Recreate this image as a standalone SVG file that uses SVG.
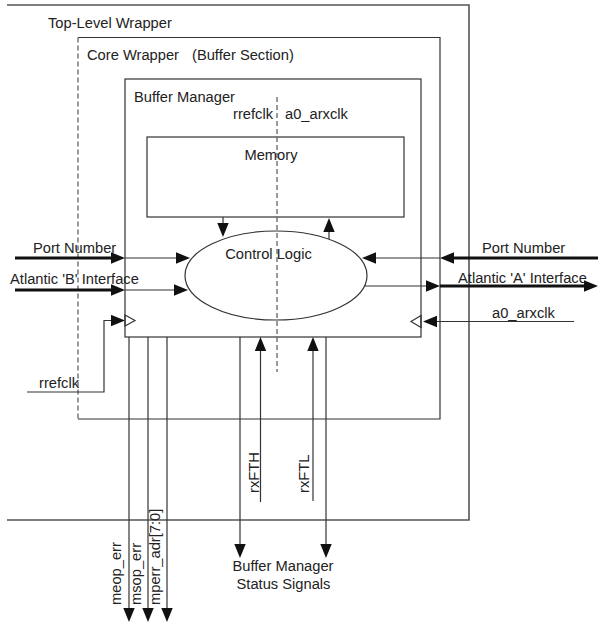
<svg xmlns="http://www.w3.org/2000/svg" width="598" height="624" viewBox="0 0 598 624">
<defs>
<style>
text{font-family:"Liberation Sans",Arial,sans-serif;font-size:14.7px;fill:#222}
.mid{text-anchor:middle}
.end{text-anchor:end}
.box{fill:none;stroke:#333;stroke-width:1.2}
.outer{fill:none;stroke:#555;stroke-width:1.6}
.dash{fill:none;stroke:#555;stroke-width:1.2;stroke-dasharray:5,3}
.thin{fill:none;stroke:#333;stroke-width:1.2}
.arr{fill:none;stroke:#333;stroke-width:1.2;marker-end:url(#ah)}
.thick{fill:none;stroke:#111;stroke-width:3;marker-end:url(#ah)}
</style>
<marker id="ah" markerUnits="userSpaceOnUse" markerWidth="16" markerHeight="13" refX="0" refY="6" orient="auto">
<path d="M0,0.3 L14,6 L0,11.7 z" fill="#111"/>
</marker>
</defs>
<rect width="598" height="624" fill="#fff"/>

<g id="top-level-wrapper">
<polyline class="outer" points="7,5 469,5 469,520 7,520"/>
<text x="48" y="28">Top-Level Wrapper</text>
</g>

<g id="core-wrapper">
<polyline class="box" points="78,37.5 440,37.5 440,419 78,419"/>
<line class="dash" x1="78" y1="37.5" x2="78" y2="419"/>
<text x="87" y="60">Core Wrapper</text>
<text x="192" y="60">(Buffer Section)</text>
</g>

<g id="buffer-manager">
<rect class="box" x="125" y="79" width="296" height="258"/>
<text x="134" y="102">Buffer Manager</text>
<text class="end" x="273" y="119">rrefclk</text>
<text x="285" y="119">a0_arxclk</text>
<polygon class="thin" points="125,315 135,320.5 125,326" fill="#fff"/>
<polygon class="thin" points="421,315.5 411,321.5 421,327.5" fill="#fff"/>
</g>

<g id="memory">
<rect class="box" x="147" y="137" width="257" height="80"/>
<text class="mid" x="271" y="160">Memory</text>
</g>

<g id="control-logic">
<ellipse class="box" cx="276" cy="275.5" rx="91" ry="44.5" fill="#fff"/>
<text class="mid" x="268.5" y="258.5">Control Logic</text>
</g>

<line class="dash" x1="277" y1="97" x2="277" y2="372"/>

<g id="connectors">
<line class="thick" x1="15" y1="258" x2="111" y2="258"/>
<line class="arr" x1="125" y1="258" x2="176" y2="258"/>
<line class="thick" x1="15" y1="290" x2="111" y2="290"/>
<line class="arr" x1="125" y1="290" x2="174" y2="290"/>
<polyline class="arr" points="27,392 104,392 104,320.5 111,320.5"/>
<line class="arr" x1="223" y1="217" x2="223" y2="223"/>
<line class="arr" x1="329" y1="239" x2="329" y2="232"/>
<line class="thick" x1="598" y1="258" x2="454" y2="258"/>
<line class="arr" x1="440" y1="258" x2="376" y2="258"/>
<line class="arr" x1="365" y1="286" x2="426" y2="286"/>
<line class="thick" x1="440" y1="286" x2="584" y2="286"/>
<line class="arr" x1="574" y1="321.5" x2="437" y2="321.5"/>
<line class="arr" x1="129" y1="337" x2="129" y2="608"/>
<line class="arr" x1="148" y1="337" x2="148" y2="608"/>
<line class="arr" x1="167" y1="337" x2="167" y2="608"/>
<line class="arr" x1="240" y1="337" x2="240" y2="544"/>
<line class="arr" x1="326" y1="337" x2="326" y2="544"/>
<line class="arr" x1="260.5" y1="502" x2="260.5" y2="351"/>
<line class="arr" x1="313" y1="501" x2="313" y2="351"/>
</g>

<g id="labels">
<text x="33" y="253">Port Number</text>
<text x="10" y="284">Atlantic 'B' Interface</text>
<text x="39" y="388">rrefclk</text>
<text x="482" y="253">Port Number</text>
<text x="458" y="283">Atlantic 'A' Interface</text>
<text x="492" y="318">a0_arxclk</text>
<text transform="translate(121,605) rotate(-90)">meop_err</text>
<text transform="translate(140.5,605) rotate(-90)">msop_err</text>
<text transform="translate(160,605) rotate(-90)">mperr_adr[7:0]</text>
<text transform="translate(259,493) rotate(-90)">rxFTH</text>
<text transform="translate(309,493) rotate(-90)">rxFTL</text>
<text class="mid" x="283" y="570.5">Buffer Manager</text>
<text class="mid" x="283.5" y="588.5">Status Signals</text>
</g>
</svg>
